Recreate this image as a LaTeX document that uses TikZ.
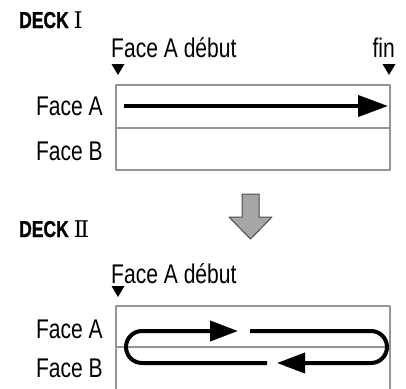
\documentclass[tikz,border=0pt]{standalone}
\usepackage{fontspec}
\setmainfont[FakeStretch=0.78]{Liberation Sans}
\newfontfamily\deckfont[FakeStretch=0.76,BoldFeatures={FakeBold=1.2}]{Liberation Sans}
\newfontfamily\numfont{DejaVu Serif}
\usetikzlibrary{arrows.meta}
\begin{document}
\begin{tikzpicture}[x=1pt,y=-1pt,line join=round,
	lbl/.style={inner sep=0pt,font=\fontsize{27}{31}\selectfont},
	ttl/.style={inner sep=0pt,anchor=base west,font=\deckfont\bfseries\fontsize{23}{27}\selectfont},
	tape/.style={draw=black!42,line width=2pt},
	run/.style={line width=4pt,-{Triangle[length=30pt,width=21pt]}},
	bigdown/.style={fill=black!35,draw=black!70,line width=1pt}]
	\useasboundingbox (0,0) rectangle (406,388);
	\path
	(118,75) coordinate (s1)
	(389,75) coordinate (e1)
	(118,297) coordinate (s2)
	;
	% deck I
	\node[ttl] (deck1) at (19,28) {DECK {\numfont\mdseries Ⅰ}};
	\node[lbl,anchor=base west] (debut1) at (111,57) {Face A début};
	\node[lbl,anchor=base east] (fin1) at (395,57) {fin};
	\draw[tape] (116,85) rectangle (390,170) (116,128) -- (390,128);
	\draw[run] (124,106) coordinate (a1) -- (388,106) coordinate (b1);
	\node[lbl,anchor=base east] (fa1) at (103,115) {Face A};
	\node[lbl,anchor=base east] (fb1) at (103,160) {Face B};
	% arrow between decks
	\draw[bigdown] (242,194) -- (259,194) -- (259,217) -- (272,217) -- (250.5,239)
	-- (229,217) -- (242,217) -- cycle;
	% deck II
	\node[ttl] (deck2) at (19,237) {DECK {\numfont\mdseries Ⅱ}};
	\node[lbl,anchor=base west] (debut2) at (111,283) {Face A début};
	\draw[tape] (116,306) rectangle (390,394) (116,347) -- (390,347);
	\node[lbl,anchor=base east] (fa2) at (103,338) {Face A};
	\node[lbl,anchor=base east] (fb2) at (103,377) {Face B};
	\draw[line width=4pt,rounded corners=16pt,-{Triangle[length=28pt,width=20pt]}]
	(267,363) -- (126,363) -- (126,331) -- (238,331);
	\draw[line width=4pt,rounded corners=16pt,-{Triangle[length=28pt,width=20pt]}]
	(250,331) -- (387,331) -- (387,363) -- (277,363);
	\foreach \p in {s1,e1,s2}
	\fill (\p) +(-6.5,-11) -- +(6.5,-11) -- +(0,0) -- cycle;
\end{tikzpicture}
\end{document}
